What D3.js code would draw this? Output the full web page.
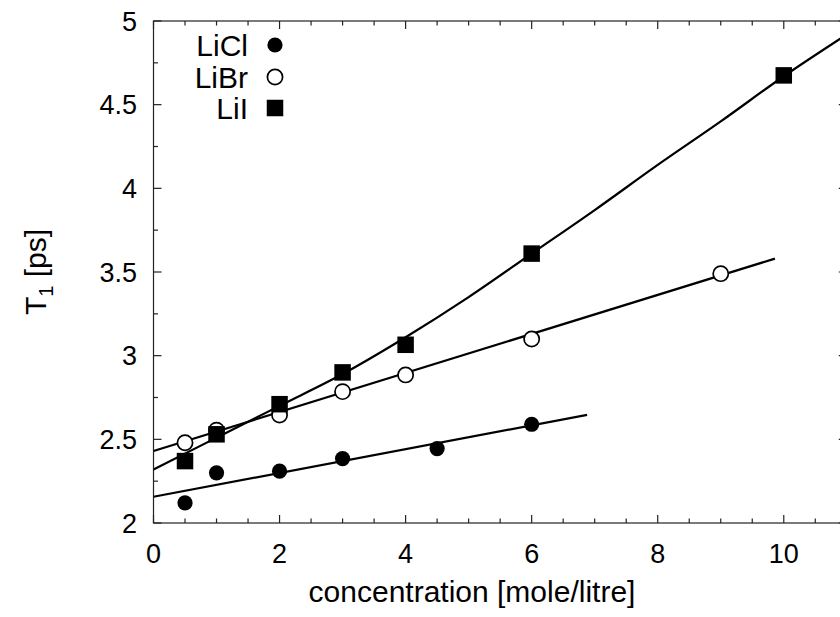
<html>
<head>
<meta charset="utf-8">
<script src="https://d3js.org/d3.v7.min.js"></script>
<style>
  body { margin: 0; background: #fff; }
  text { font-family: "Liberation Sans", Arial, sans-serif; fill: #000; }
</style>
</head>
<body>
<script>
var width = 840, height = 617;

// measured data points
var liclX = [0.5, 1, 2, 3, 4.5, 6];
var liclY = [2.12, 2.30, 2.31, 2.385, 2.445, 2.59];
var librX = [0.5, 1, 2, 3, 4, 6, 9];
var librY = [2.48, 2.555, 2.645, 2.785, 2.885, 3.10, 3.49];
var liiX = [0.5, 1, 2, 3, 4, 6, 10];
var liiY = [2.37, 2.53, 2.71, 2.90, 3.065, 3.61, 4.675];

// fit lines
var liclFitX = [0, 6.88];
var liclFitY = [2.157, 2.646];
var librFitX = [0, 9.86];
var librFitY = [2.43, 3.58];
var liiFitX = [0, 1, 2, 3, 4, 5, 6, 7, 8, 9, 10, 11];
var liiFitY = [2.32, 2.51, 2.70, 2.89, 3.11, 3.35, 3.61, 3.87, 4.14, 4.40, 4.67, 4.92];

var xTicks = [0, 2, 4, 6, 8, 10];
var yTicks = [2, 2.5, 3, 3.5, 4, 4.5, 5];
var legendNames = ["LiCl", "LiBr", "LiI"];

var mLeft = 153.5, mRight = 846.8, mTop = 21, mBottom = 523;
var fs = "27px", fsBig = "30px";

var x = d3.scaleLinear().domain([0, 11]).range([mLeft, mRight]);
var y = d3.scaleLinear().domain([2, 5]).range([mBottom, mTop]);

var svg = d3.select("body").append("svg")
  .attr("width", width)
  .attr("height", height);

svg.append("defs").append("clipPath").attr("id", "clip")
  .append("rect")
  .attr("x", mLeft).attr("y", mTop)
  .attr("width", mRight - mLeft).attr("height", mBottom - mTop);

// frame
svg.append("rect")
  .attr("x", mLeft).attr("y", mTop)
  .attr("width", mRight - mLeft).attr("height", mBottom - mTop)
  .attr("fill", "none").attr("stroke", "#222").attr("stroke-width", 1.2);

// ticks on all sides, pointing inwards
var xMinor = d3.range(0, 11.01, 0.5);
var yMinor = d3.range(2, 5.01, 0.25);
var ticks = svg.append("g").attr("stroke", "#222").attr("stroke-width", 1.2);

xMinor.forEach(function(v) {
  var len = (v % 2 === 0) ? 8 : 4.5;
  ticks.append("line").attr("x1", x(v)).attr("x2", x(v)).attr("y1", mBottom).attr("y2", mBottom - len);
  ticks.append("line").attr("x1", x(v)).attr("x2", x(v)).attr("y1", mTop).attr("y2", mTop + len);
});
yMinor.forEach(function(v) {
  var len = (Math.abs(v * 2 - Math.round(v * 2)) < 1e-6) ? 8 : 4.5;
  ticks.append("line").attr("y1", y(v)).attr("y2", y(v)).attr("x1", mLeft).attr("x2", mLeft + len);
  ticks.append("line").attr("y1", y(v)).attr("y2", y(v)).attr("x1", mRight).attr("x2", mRight - len);
});

svg.selectAll(".xl").data(xTicks).enter().append("text")
  .attr("x", function(d) { return x(d); })
  .attr("y", 563)
  .attr("text-anchor", "middle")
  .style("font-size", fs)
  .text(function(d) { return d; });

svg.selectAll(".yl").data(yTicks).enter().append("text")
  .attr("x", 137)
  .attr("y", function(d) { return y(d) + 9.5; })
  .attr("text-anchor", "end")
  .style("font-size", fs)
  .text(function(d) { return d; });

svg.append("text")
  .attr("x", 472)
  .attr("y", 602)
  .attr("text-anchor", "middle")
  .style("font-size", fsBig)
  .text("concentration [mole/litre]");

var yt = svg.append("text")
  .attr("transform", "translate(46," + ((mTop + mBottom) / 2) + ") rotate(-90)")
  .attr("text-anchor", "middle")
  .style("font-size", fsBig);
yt.append("tspan").text("T");
yt.append("tspan").attr("dy", 7).style("font-size", "20px").text("1");
yt.append("tspan").attr("dy", -7).text(" [ps]");

// fit lines
var plot = svg.append("g").attr("clip-path", "url(#clip)");
var line = d3.line()
  .x(function(d) { return x(d[0]); })
  .y(function(d) { return y(d[1]); });

plot.append("path").datum(d3.zip(liclFitX, liclFitY))
  .attr("d", line).attr("fill", "none").attr("stroke", "#000").attr("stroke-width", 2.2);
plot.append("path").datum(d3.zip(librFitX, librFitY))
  .attr("d", line).attr("fill", "none").attr("stroke", "#000").attr("stroke-width", 2.2);
plot.append("path").datum(d3.zip(liiFitX, liiFitY))
  .attr("d", line.curve(d3.curveMonotoneX)).attr("fill", "none").attr("stroke", "#000").attr("stroke-width", 2.2);

// markers
var r = 7.6, sq = 16.5;
plot.selectAll(".licl").data(d3.zip(liclX, liclY)).enter().append("circle")
  .attr("cx", function(d) { return x(d[0]); })
  .attr("cy", function(d) { return y(d[1]); })
  .attr("r", r).attr("fill", "#000");

plot.selectAll(".libr").data(d3.zip(librX, librY)).enter().append("circle")
  .attr("cx", function(d) { return x(d[0]); })
  .attr("cy", function(d) { return y(d[1]); })
  .attr("r", r).attr("fill", "#fff").attr("stroke", "#000").attr("stroke-width", 1.7);

plot.selectAll(".lii").data(d3.zip(liiX, liiY)).enter().append("rect")
  .attr("x", function(d) { return x(d[0]) - sq / 2; })
  .attr("y", function(d) { return y(d[1]) - sq / 2; })
  .attr("width", sq).attr("height", sq).attr("fill", "#000");

// legend
var legY = [45, 77, 108];
var lg = svg.append("g");
legendNames.forEach(function(n, i) {
  lg.append("text").attr("x", 248).attr("y", legY[i] + 10.5)
    .attr("text-anchor", "end").style("font-size", fsBig).text(n);
});
lg.append("circle").attr("cx", 275).attr("cy", legY[0]).attr("r", r).attr("fill", "#000");
lg.append("circle").attr("cx", 275).attr("cy", legY[1]).attr("r", r)
  .attr("fill", "#fff").attr("stroke", "#000").attr("stroke-width", 1.7);
lg.append("rect").attr("x", 275 - sq / 2).attr("y", legY[2] - sq / 2)
  .attr("width", sq).attr("height", sq).attr("fill", "#000");
</script>
</body>
</html>
